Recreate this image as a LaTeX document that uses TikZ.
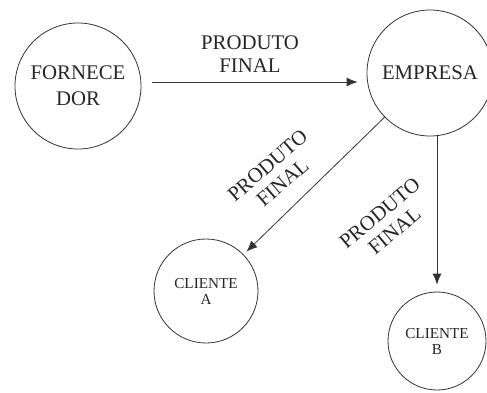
\documentclass[tikz,border=0pt]{standalone}
\usepackage{fontspec}
\setmainfont{Liberation Serif}
\usetikzlibrary{arrows.meta}

\begin{document}
\begin{tikzpicture}[x=0.5pt,y=-0.5pt,>={Latex[length=5.5pt,width=4.5pt]},
  kreis/.style={draw=black!80, circle, inner sep=0pt, align=center, text=black!85},
  gross/.style={font=\fontsize{10.4}{13}\selectfont},
  klein/.style={font=\fontsize{7.6}{8}\selectfont},
  etikett/.style={align=center, text=black!85, font=\fontsize{10.4}{11.5}\selectfont},
  fluss/.style={->, draw=black!80}]

\useasboundingbox (0,0) rectangle (487,392);

%Kreise
\node[kreis, gross, minimum size=63pt] (forn) at (78,86) {FORNECE\\DOR};
\node[kreis, gross, minimum size=63pt] (emp) at (430,73) {EMPRESA};
\node[kreis, klein, minimum size=52pt] (cliA) at (206,291) {CLIENTE\\A};
\node[kreis, klein, minimum size=49pt] (cliB) at (437,341) {CLIENTE\\B};

%Pfeile
\draw[fluss] ([xshift=5.5pt,yshift=2pt]forn.east) -- ([xshift=-4.5pt,yshift=2pt]forn.east -| emp.west);
\draw[fluss, shorten >=2pt] (emp) -- (cliA);
\draw[fluss, shorten >=3.5pt] (emp.south -| cliB.north) -- (cliB.north);

%Beschriftung
\node[etikett] (lab1) at (250,54) {PRODUTO\\FINAL};
\node[etikett, rotate=41] (lab2) at (275,174) {PRODUTO\\FINAL};
\node[etikett, rotate=40] (lab3) at (387,222) {PRODUTO\\FINAL};

\end{tikzpicture}
\end{document}
